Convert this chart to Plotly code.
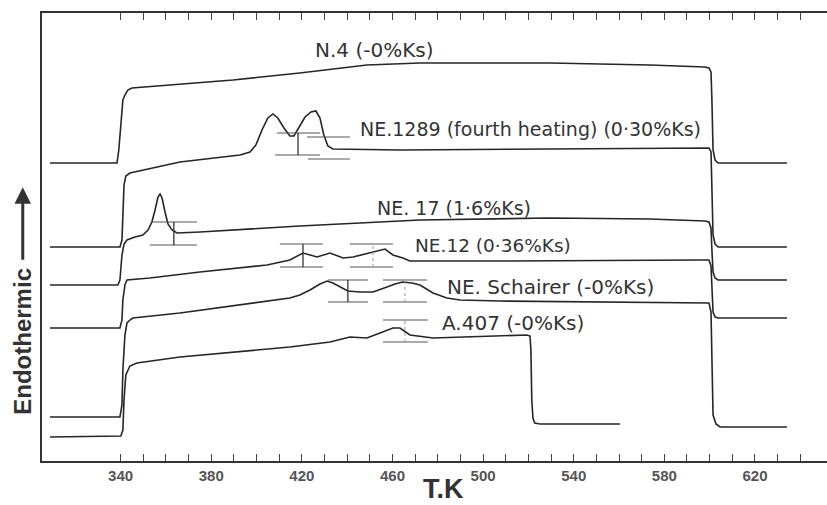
import plotly.graph_objects as go

# ---------------- data (T in K, signal in arbitrary units) ----------------
n4_T = [308.8, 338.4, 339.2, 340.1, 341.0, 341.9, 343.2, 345.0, 360.4, 389.6, 419.1, 448.7,
        472.1, 529.5, 573.6, 597.9, 599.7, 600.6, 601.0, 601.5, 602.4, 603.7, 634.1]
n4_S = [298, 298, 311, 341, 361, 366, 371, 373, 376, 381, 388, 396,
        398, 398, 396, 394, 393, 389, 361, 311, 301, 298, 298]

ne1289_T = [308.8, 339.7, 340.6, 341.0, 341.5, 342.3, 344.1, 366.2, 392.7, 397.1, 399.7, 402.4,
            405.0, 407.2, 409.4, 412.1, 414.7, 416.5, 418.7, 421.4, 424.0, 426.2, 428.0, 429.7,
            431.5, 433.7, 463.3, 529.5, 595.7, 599.7, 600.6, 601.0, 601.5, 602.4, 603.7, 634.1]
ne1289_S = [214, 214, 221, 251, 276, 285, 288, 299, 306, 309, 316, 331,
            343, 347, 343, 333, 325, 325, 334, 344, 349, 350, 343, 326,
            315, 312, 311, 312, 313, 313, 309, 271, 226, 217, 214, 214]

ne17_T = [308.8, 338.8, 339.7, 340.6, 341.5, 342.8, 346.3, 349.8, 352.1, 353.8, 355.2, 356.5,
          357.4, 358.3, 359.6, 360.9, 362.7, 364.9, 375.0, 419.1, 472.1, 529.5, 573.6, 597.9,
          599.7, 600.6, 601.0, 601.5, 602.4, 603.7, 634.1]
ne17_S = [176, 176, 181, 206, 217, 221, 224, 226, 231, 239, 251, 264,
          267, 263, 249, 237, 231, 228, 229, 235, 241, 243, 242, 240,
          239, 233, 211, 189, 183, 181, 181]

ne12_T = [308.8, 339.7, 340.6, 341.0, 341.9, 342.8, 352.9, 375.0, 404.6, 414.7, 420.5, 423.6,
          426.7, 432.4, 438.2, 442.6, 451.4, 456.7, 460.2, 464.6, 467.7, 507.4, 595.7, 599.7,
          600.6, 601.0, 601.5, 602.4, 603.7, 634.1]
ne12_S = [133, 133, 141, 161, 176, 181, 183, 189, 196, 201, 208, 206,
          204, 208, 203, 204, 209, 212, 206, 203, 200, 200, 201, 201,
          195, 171, 149, 144, 143, 143]

schairer_T = [308.8, 339.7, 340.6, 341.0, 341.9, 342.8, 344.1, 345.4, 366.2, 414.7, 419.1, 423.6,
              428.0, 431.1, 433.7, 436.8, 440.3, 445.6, 451.4, 457.6, 461.1, 464.6, 468.6, 472.1,
              477.9, 484.0, 489.8, 507.4, 595.7, 599.7, 600.6, 601.0, 601.5, 602.8, 604.6, 634.1]
schairer_S = [44, 44, 56, 91, 126, 138, 141, 143, 148, 163, 166, 171,
              177, 180, 178, 174, 170, 169, 169, 174, 177, 179, 178, 176,
              168, 163, 161, 160, 158, 158, 149, 91, 46, 37, 34, 34]

a407_T = [308.8, 340.1, 341.0, 341.5, 342.3, 344.1, 347.2, 366.2, 414.7, 432.4, 441.2, 448.7,
          454.5, 460.2, 463.3, 467.7, 477.9, 507.4, 519.3, 520.7, 521.1, 521.5, 522.0, 522.8,
          525.1, 560.4]
a407_S = [24, 25, 31, 61, 86, 95, 98, 104, 114, 119, 124, 123,
          128, 133, 133, 126, 123, 125, 126, 125, 111, 61, 43, 38,
          37, 37]

# tangent-construction bars: (T_start, T_end, S)
bar_T0 = [409.0, 408.2, 422.3, 422.7, 353.8, 352.9, 410.3, 410.3, 441.2, 441.2,
          431.5, 431.5, 455.8, 455.8, 455.8, 455.8]
bar_T1 = [428.0, 428.0, 441.2, 441.2, 373.7, 373.7, 429.3, 429.3, 460.2, 460.2,
          449.2, 449.2, 475.2, 475.2, 475.6, 475.6]
bar_S = [328, 306, 324, 302, 239, 216, 217, 194, 217, 194,
         181, 159, 181, 159, 141, 119]
# vertical connectors: (T, S_low, S_high, dotted?)
vert_T = [418.3, 363.5, 420.5, 451.4, 440.3, 465.5, 465.5]
vert_S0 = [306, 216, 194, 194, 159, 159, 119]
vert_S1 = [328, 239, 217, 217, 181, 181, 141]
vert_dot = [False, False, False, True, False, True, True]

labels = ["N.4 (-0%Ks)", "NE.1289 (fourth heating) (0·30%Ks)", "NE. 17 (1·6%Ks)",
          "NE.12 (0·36%Ks)", "NE. Schairer (-0%Ks)", "A.407 (-0%Ks)"]
label_T = [424.9, 444.7, 452.3, 469.0, 483.2, 481.0]
label_S = [411, 332, 253, 216, 174, 138]
label_size = [20, 19, 19, 18.5, 20, 20]

tick_vals = list(range(340, 650, 10))
tick_labels = ["340", "380", "420", "460", "500", "540", "580", "620"]

# ---------------- figure ----------------
LINE = "#262626"
fig = go.Figure()
for T, S in [(n4_T, n4_S), (ne1289_T, ne1289_S), (ne17_T, ne17_S),
             (ne12_T, ne12_S), (schairer_T, schairer_S), (a407_T, a407_S)]:
    fig.add_trace(go.Scatter(x=T, y=S, mode="lines",
                             line=dict(color=LINE, width=1.6), hoverinfo="skip",
                             showlegend=False))

bx, by = [], []
for t0, t1, s in zip(bar_T0, bar_T1, bar_S):
    bx += [t0, t1, None]
    by += [s, s, None]
fig.add_trace(go.Scatter(x=bx, y=by, mode="lines", line=dict(color="#555", width=1.2),
                         hoverinfo="skip", showlegend=False))
sx, sy, dx, dy = [], [], [], []
for t, s0, s1, d in zip(vert_T, vert_S0, vert_S1, vert_dot):
    if d:
        dx += [t, t, None]; dy += [s0, s1, None]
    else:
        sx += [t, t, None]; sy += [s0, s1, None]
fig.add_trace(go.Scatter(x=sx, y=sy, mode="lines", line=dict(color="#333", width=1.3),
                         hoverinfo="skip", showlegend=False))
fig.add_trace(go.Scatter(x=dx, y=dy, mode="lines", line=dict(color="#999", width=1, dash="dot"),
                         hoverinfo="skip", showlegend=False))

for txt, t, s, fs in zip(labels, label_T, label_S, label_size):
    fig.add_annotation(x=t, y=s, text=txt, showarrow=False, xanchor="left", yanchor="middle",
                       font=dict(family="DejaVu Sans", size=fs, color="#333"))

ticktext = [str(v) if str(v) in tick_labels else "" for v in tick_vals]

fig.update_layout(
    width=827, height=505,
    margin=dict(l=42, r=0, t=13, b=44),
    paper_bgcolor="white", plot_bgcolor="white",
    xaxis=dict(range=[305.3, 651.8], showgrid=False, zeroline=False,
               showline=True, linecolor="#333", linewidth=1.5, mirror="ticks",
               ticks="inside", ticklen=7, tickwidth=1.2, tickcolor="#444",
               tickmode="array", tickvals=tick_vals, ticktext=ticktext,
               tickfont=dict(family="Liberation Sans", size=15, color="#555", weight="bold")),
    yaxis=dict(range=[0, 448], showgrid=False, zeroline=False, showline=True,
               linecolor="#333", linewidth=1.5, showticklabels=False, ticks=""),
)

fig.add_annotation(xref="paper", yref="paper", x=0.511, y=-0.0625, text="T.K", showarrow=False,
                   xanchor="center", yanchor="middle",
                   font=dict(family="Liberation Sans", size=27, color="#333", weight="bold"))
fig.add_annotation(xref="paper", yref="paper", x=-0.0245, y=0.268, text="Endothermic",
                   textangle=-90, showarrow=False, xanchor="center", yanchor="middle",
                   font=dict(family="Liberation Sans", size=24, color="#333", weight="bold"))
fig.add_annotation(xref="paper", yref="paper", x=-0.0245, y=0.611, ax=0, ay=74, text="",
                   showarrow=True, arrowhead=2, arrowsize=1.1, arrowwidth=3, arrowcolor="#333")

fig.write_html("out.html", config={"displayModeBar": False},
               post_script="document.body.style.margin='0';")
